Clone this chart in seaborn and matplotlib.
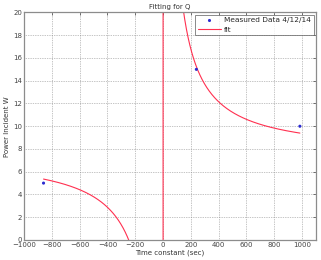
import numpy as np
import pandas as pd
import matplotlib
matplotlib.use("Agg")
import matplotlib.pyplot as plt
import seaborn as sns

# Measured data
time_constant = [-860, 240, 985]
power = [5.0, 15.0, 10.0]
data_label = "Measured Data 4/12/14"
x_ticks = [-1000, -800, -600, -400, -200, 0, 200, 400, 600, 800, 1000]
y_ticks = [0, 2, 4, 6, 8, 10, 12, 14, 16, 18, 20]

sns.set_style("white")
plt.rcParams['font.family'] = ['DejaVu Sans']

# Fit of form y = a + b/x (least squares on the measured data)
xd = np.array(time_constant, dtype=float)
yd = np.array(power, dtype=float)
b, a = np.polyfit(1.0 / xd, yd, 1)
xf = np.linspace(xd.min(), xd.max(), 1201)
yf = a + b / xf
fit_df = pd.DataFrame({"x": xf, "y": yf})
data_df = pd.DataFrame({"x": xd, "y": yd})

fig = plt.figure(figsize=(3.21, 2.60), dpi=100)
ax = fig.add_axes([0.075, 0.077, 0.909, 0.875])

sns.scatterplot(data=data_df, x="x", y="y", ax=ax, color="#2b2bd0", s=5,
                marker="o", edgecolor="none", label=data_label, zorder=3)
sns.lineplot(data=fit_df, x="x", y="y", ax=ax, color="#ff3050", linewidth=0.8,
             sort=False, estimator=None, label="fit", zorder=2)

ax.set_xlim(-1000, 1100)
ax.set_ylim(0, 20)
ax.set_xticks(x_ticks)
ax.set_yticks(y_ticks)
ax.grid(True, linestyle=(0, (1, 1.5)), color="#8a8a8a", linewidth=0.5)
ax.tick_params(direction="in", length=2.5, width=0.5, labelsize=5,
               top=True, right=True, pad=1.5, colors="#444444")
for s in ax.spines.values():
    s.set_color("#8c8c8c")
    s.set_linewidth(0.9)

ax.set_xlabel("Time constant (sec)", fontsize=5, labelpad=1, color="#333333")
ax.set_ylabel("Power Incident W", fontsize=5, labelpad=2, color="#333333")
ax.set_title("Fitting for Q", fontsize=5, pad=2.5, color="#333333")

leg = ax.legend(loc="upper right", fontsize=5.3, frameon=True, fancybox=False,
                borderpad=0.35, labelspacing=0.45, handlelength=3.2,
                handletextpad=0.4, borderaxespad=0.3, markerscale=1.0)
leg.get_frame().set_edgecolor("#555555")
leg.get_frame().set_linewidth(0.6)

fig.savefig("out.png", dpi=100)
